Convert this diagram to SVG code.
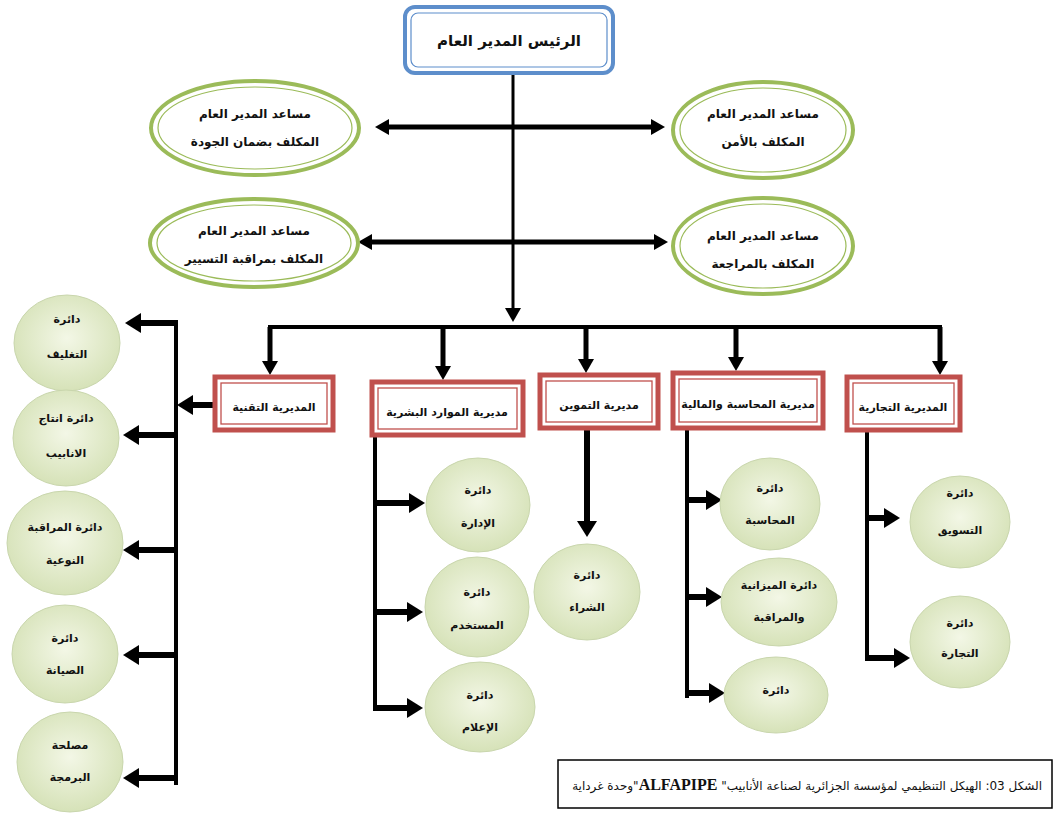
<svg xmlns="http://www.w3.org/2000/svg" width="1054" height="820" viewBox="0 0 1054 820">
<style>
text{font-family:"DejaVu Sans","Noto Sans",sans-serif;fill:#111;text-anchor:middle;font-weight:bold}
.t1{font-size:15px}
.te{font-size:12px}
.td{font-size:11px}
.tc{font-size:11px}
.bo{fill:#fff;stroke:#5d8ecb;stroke-width:4}
.bi{fill:none;stroke:#5d8ecb;stroke-width:1.2}
.eo{fill:#fff;stroke:#9bbb59;stroke-width:4}
.ei{fill:none;stroke:#9bbb59;stroke-width:1.2}
.ro{fill:#fff;stroke:#c0504d;stroke-width:5}
.ri{fill:none;stroke:#c0504d;stroke-width:1.3}
.c{fill:url(#cg);stroke:#c9d6ad;stroke-width:1}
.l{stroke:#000;fill:none}
.w3{stroke-width:3}
.w4{stroke-width:4}
.w5{stroke-width:5;marker-end:url(#am)}
.w6{stroke-width:6;marker-end:url(#ah)}
</style>
<defs>
<radialGradient id="cg" cx="50%" cy="45%" r="55%">
<stop offset="0" stop-color="#f3f7e6"/>
<stop offset="1" stop-color="#d6e2b8"/>
</radialGradient>
<marker id="ah" markerUnits="userSpaceOnUse" viewBox="0 0 16 20" markerWidth="16" markerHeight="20" refX="0" refY="10" orient="auto">
<path d="M0,0 L16,10 L0,20 z" fill="#000"/>
</marker>
<marker id="am" markerUnits="userSpaceOnUse" viewBox="0 0 14 16" markerWidth="14" markerHeight="16" refX="0" refY="8" orient="auto">
<path d="M0,0 L14,8 L0,16 z" fill="#000"/>
</marker>
</defs>

<g id="connectors">
<line class="l w3" x1="513" y1="75" x2="513" y2="308" marker-end="url(#am)"/>
<line class="l w5" x1="513" y1="127" x2="389" y2="127"/>
<line class="l w5" x1="513" y1="127" x2="651" y2="127"/>
<line class="l w5" x1="513" y1="242" x2="372" y2="242"/>
<line class="l w5" x1="513" y1="242" x2="654" y2="242"/>
<line class="l w4" x1="268" y1="327" x2="942" y2="327"/>
<line class="l w5" x1="270" y1="327" x2="270" y2="361"/>
<line class="l w5" x1="443" y1="327" x2="443" y2="366"/>
<line class="l w5" x1="586" y1="327" x2="586" y2="359"/>
<line class="l w5" x1="736" y1="327" x2="736" y2="357"/>
<line class="l w5" x1="940" y1="327" x2="940" y2="361"/>
<line class="l w6" x1="213" y1="405" x2="193" y2="405"/>
<line class="l w4" x1="176" y1="323" x2="176" y2="785"/>
<line class="l w6" x1="178" y1="323" x2="141" y2="323"/>
<line class="l w6" x1="178" y1="435" x2="139" y2="435"/>
<line class="l w6" x1="178" y1="550" x2="139" y2="550"/>
<line class="l w6" x1="178" y1="655" x2="139" y2="655"/>
<line class="l w6" x1="178" y1="778" x2="139" y2="778"/>
<line class="l w4" x1="375" y1="435" x2="375" y2="710"/>
<line class="l w6" x1="373" y1="503" x2="409" y2="503"/>
<line class="l w6" x1="373" y1="612" x2="407" y2="612"/>
<line class="l w6" x1="373" y1="708" x2="407" y2="708"/>
<line class="l w6" x1="587" y1="428" x2="587" y2="521"/>
<line class="l w4" x1="687" y1="428" x2="687" y2="698"/>
<line class="l w6" x1="685" y1="500" x2="706" y2="500"/>
<line class="l w6" x1="685" y1="597" x2="706" y2="597"/>
<line class="l w6" x1="685" y1="693" x2="709" y2="693"/>
<line class="l w4" x1="867" y1="430" x2="867" y2="660"/>
<line class="l w6" x1="865" y1="518" x2="884" y2="518"/>
<line class="l w6" x1="865" y1="658" x2="894" y2="658"/>
</g>

<g id="ceo">
<rect class="bo" x="405" y="7" width="208" height="66" rx="10"/>
<rect class="bi" x="411" y="13" width="196" height="54" rx="7"/>
<text class="t1" x="509" y="46">الرئيس المدير العام</text>
</g>

<g id="asst-quality">
<ellipse class="eo" cx="255" cy="128" rx="104" ry="47"/>
<ellipse class="ei" cx="255" cy="128" rx="97" ry="41"/>
<text class="te" x="255" y="118">مساعد المدير العام</text>
<text class="te" x="255" y="146">المكلف بضمان الجودة</text>
</g>
<g id="asst-security">
<ellipse class="eo" cx="763" cy="130" rx="90" ry="48"/>
<ellipse class="ei" cx="763" cy="130" rx="83" ry="42"/>
<text class="te" x="763" y="118">مساعد المدير العام</text>
<text class="te" x="763" y="146">المكلف بالأمن</text>
</g>
<g id="asst-monitoring">
<ellipse class="eo" cx="254" cy="243" rx="104" ry="44"/>
<ellipse class="ei" cx="254" cy="243" rx="97" ry="38"/>
<text class="te" x="254" y="235">مساعد المدير العام</text>
<text class="te" x="254" y="263">المكلف بمراقبة التسيير</text>
</g>
<g id="asst-audit">
<ellipse class="eo" cx="763" cy="246" rx="90" ry="48"/>
<ellipse class="ei" cx="763" cy="246" rx="83" ry="42"/>
<text class="te" x="763" y="240">مساعد المدير العام</text>
<text class="te" x="763" y="268">المكلف بالمراجعة</text>
</g>

<g id="dir-tech">
<rect class="ro" x="215" y="377" width="118" height="53"/>
<rect class="ri" x="221" y="383" width="106" height="41"/>
<text class="td" x="274" y="411">المديرية التقنية</text>
</g>
<g id="dir-hr">
<rect class="ro" x="372" y="382" width="151" height="53"/>
<rect class="ri" x="378" y="388" width="139" height="41"/>
<text class="td" x="447" y="416">مديرية الموارد البشرية</text>
</g>
<g id="dir-supply">
<rect class="ro" x="540" y="375" width="118" height="53"/>
<rect class="ri" x="546" y="381" width="106" height="41"/>
<text class="td" x="599" y="409">مديرية التموين</text>
</g>
<g id="dir-finance">
<rect class="ro" x="673" y="373" width="150" height="55"/>
<rect class="ri" x="679" y="379" width="138" height="43"/>
<text class="td" x="748" y="408">مديرية المحاسبة والمالية</text>
</g>
<g id="dir-commercial">
<rect class="ro" x="847" y="377" width="113" height="53"/>
<rect class="ri" x="853" y="383" width="101" height="41"/>
<text class="td" x="903" y="411">المديرية التجارية</text>
</g>

<g id="c-packaging">
<ellipse class="c" cx="67" cy="343" rx="53" ry="48"/>
<text class="tc" x="67" y="323">دائرة</text>
<text class="tc" x="67" y="358">التغليف</text>
</g>
<g id="c-production">
<ellipse class="c" cx="66" cy="438" rx="53" ry="48"/>
<text class="tc" x="66" y="422">دائرة انتاج</text>
<text class="tc" x="66" y="457">الانابيب</text>
</g>
<g id="c-quality">
<ellipse class="c" cx="65" cy="543" rx="58" ry="52"/>
<text class="tc" x="65" y="531">دائرة المراقبة</text>
<text class="tc" x="65" y="564">النوعية</text>
</g>
<g id="c-maintenance">
<ellipse class="c" cx="65" cy="654" rx="53" ry="49"/>
<text class="tc" x="65" y="642">دائرة</text>
<text class="tc" x="65" y="674">الصيانة</text>
</g>
<g id="c-programming">
<ellipse class="c" cx="70" cy="762" rx="53" ry="50"/>
<text class="tc" x="70" y="749">مصلحة</text>
<text class="tc" x="70" y="781">البرمجة</text>
</g>

<g id="c-admin">
<ellipse class="c" cx="478" cy="505" rx="52" ry="47"/>
<text class="tc" x="478" y="494">دائرة</text>
<text class="tc" x="478" y="527">الإدارة</text>
</g>
<g id="c-staff">
<ellipse class="c" cx="477" cy="607" rx="52" ry="50"/>
<text class="tc" x="477" y="596">دائرة</text>
<text class="tc" x="477" y="629">المستخدم</text>
</g>
<g id="c-media">
<ellipse class="c" cx="480" cy="707" rx="55" ry="45"/>
<text class="tc" x="480" y="699">دائرة</text>
<text class="tc" x="480" y="731">الإعلام</text>
</g>
<g id="c-purchase">
<ellipse class="c" cx="587" cy="592" rx="53" ry="48"/>
<text class="tc" x="587" y="579">دائرة</text>
<text class="tc" x="587" y="611">الشراء</text>
</g>
<g id="c-accounting">
<ellipse class="c" cx="770" cy="504" rx="50" ry="46"/>
<text class="tc" x="770" y="492">دائرة</text>
<text class="tc" x="770" y="524">المحاسبة</text>
</g>
<g id="c-budget">
<ellipse class="c" cx="779" cy="602" rx="58" ry="44"/>
<text class="tc" x="779" y="589">دائرة الميزانية</text>
<text class="tc" x="779" y="621">والمراقبة</text>
</g>
<g id="c-dept">
<ellipse class="c" cx="776" cy="695" rx="52" ry="38"/>
<text class="tc" x="776" y="694">دائرة</text>
</g>
<g id="c-marketing">
<ellipse class="c" cx="960" cy="522" rx="50" ry="46"/>
<text class="tc" x="960" y="497">دائرة</text>
<text class="tc" x="960" y="534">التسويق</text>
</g>
<g id="c-trade">
<ellipse class="c" cx="960" cy="642" rx="50" ry="46"/>
<text class="tc" x="960" y="627">دائرة</text>
<text class="tc" x="960" y="657">التجارة</text>
</g>

<g id="caption">
<rect x="558" y="760" width="494" height="48" fill="#fff" stroke="#000" stroke-width="1.5"/>
<text x="1042" y="790" direction="rtl" style="text-anchor:start;font-size:12px;font-weight:normal">الشكل 03: الهيكل التنظيمي لمؤسسة الجزائرية لصناعة الأنابيب" <tspan style="font-family:'Liberation Serif',serif;font-weight:bold;font-size:16px">ALFAPIPE</tspan>"وحدة غرداية</text>
</g>
</svg>
